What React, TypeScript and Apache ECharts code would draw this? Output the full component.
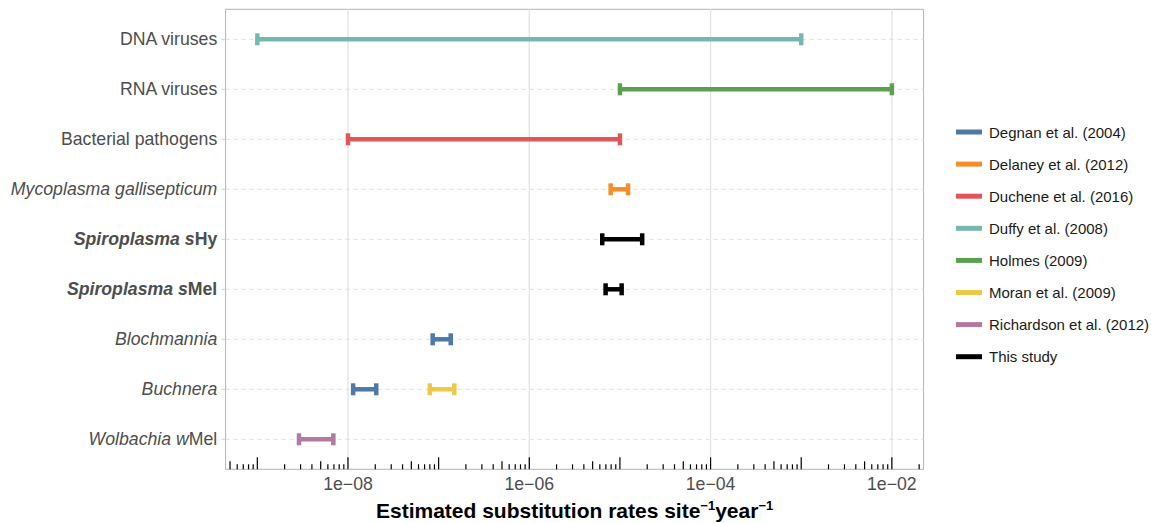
import React, { useEffect, useRef } from "react";
import * as echarts from "echarts";

// ---------- data ----------
const categories = [
  "DNA viruses",
  "RNA viruses",
  "Bacterial pathogens",
  "Mycoplasma gallisepticum",
  "Spiroplasma sHy",
  "Spiroplasma sMel",
  "Blochmannia",
  "Buchnera",
  "Wolbachia wMel",
];

const categoryLabels = [
  "{n|DNA viruses}",
  "{n|RNA viruses}",
  "{n|Bacterial pathogens}",
  "{i|Mycoplasma gallisepticum}",
  "{bi|Spiroplasma s}{b|Hy}",
  "{bi|Spiroplasma s}{b|Mel}",
  "{i|Blochmannia}",
  "{i|Buchnera}",
  "{i|Wolbachia w}{n|Mel}",
];

const studies = [
  "Degnan et al. (2004)",
  "Delaney et al. (2012)",
  "Duchene et al. (2016)",
  "Duffy et al. (2008)",
  "Holmes (2009)",
  "Moran et al. (2009)",
  "Richardson et al. (2012)",
  "This study",
];

// [low, high, category]
const degnanRates: [number, number, string][] = [
  [8.6e-8, 1.36e-7, "Blochmannia"],
  [1.14e-8, 2.05e-8, "Buchnera"],
];
const delaneyRates: [number, number, string][] = [[7.9e-6, 1.23e-5, "Mycoplasma gallisepticum"]];
const ducheneRates: [number, number, string][] = [[1e-8, 1e-5, "Bacterial pathogens"]];
const duffyRates: [number, number, string][] = [[1e-9, 1e-3, "DNA viruses"]];
const holmesRates: [number, number, string][] = [[1e-5, 1e-2, "RNA viruses"]];
const moranRates: [number, number, string][] = [[8.0e-8, 1.49e-7, "Buchnera"]];
const richardsonRates: [number, number, string][] = [[2.88e-9, 6.9e-9, "Wolbachia wMel"]];
const thisStudyRates: [number, number, string][] = [
  [6.38e-6, 1.76e-5, "Spiroplasma sHy"],
  [6.95e-6, 1.045e-5, "Spiroplasma sMel"],
];

const studyRates = [
  degnanRates,
  delaneyRates,
  ducheneRates,
  duffyRates,
  holmesRates,
  moranRates,
  richardsonRates,
  thisStudyRates,
];

const xTickValues = [1e-8, 1e-6, 1e-4, 1e-2];
const xTickLabels = ["1e\u221208", "1e\u221206", "1e\u221204", "1e\u221202"];
const logTickDecades = [-10, -9, -8, -7, -6, -5, -4, -3, -2];
const logTickMultipliers = [1, 2, 3, 4, 5, 6, 7, 8, 9];

// ---------- styles ----------
const palette = ["#4E79A7", "#F28E2B", "#E15759", "#76B7B2", "#59A14F", "#EDC948", "#B07AA1", "#000000"];
const FONT = "'Liberation Sans', Arial, Helvetica, sans-serif";
const X_MIN = Math.pow(10, -9.35);
const X_MAX = Math.pow(10, -1.65);

export default function App() {
  const ref = useRef<HTMLDivElement>(null);

  useEffect(() => {
    if (!ref.current) return;
    const chart = echarts.init(ref.current, undefined, { renderer: "svg" });

    const logTicks: number[][] = [];
    logTickDecades.forEach((d) => {
      logTickMultipliers.forEach((m) => {
        const v = m * Math.pow(10, d);
        if (v >= X_MIN && v <= X_MAX) logTicks.push([v, 8.6, m]);
      });
    });

    const barSeries = studies.map((name, si) => ({
      type: "custom",
      name,
      z: 5,
      itemStyle: { color: palette[si] },
      encode: { x: [0, 1], y: 2 },
      data: studyRates[si].map((r) => [r[0], r[1], categories.indexOf(r[2])]),
      renderItem: (params: any, api: any) => {
        const y = api.value(2);
        const p1 = api.coord([api.value(0), y]);
        const p2 = api.coord([api.value(1), y]);
        const color = palette[si];
        const lw = 4.5;
        const ch = 6;
        return {
          type: "group",
          children: [
            { type: "line", shape: { x1: p1[0], y1: p1[1], x2: p2[0], y2: p2[1] }, style: { stroke: color, lineWidth: lw } },
            { type: "line", shape: { x1: p1[0], y1: p1[1] - ch, x2: p1[0], y2: p1[1] + ch }, style: { stroke: color, lineWidth: lw } },
            { type: "line", shape: { x1: p2[0], y1: p2[1] - ch, x2: p2[0], y2: p2[1] + ch }, style: { stroke: color, lineWidth: lw } },
          ],
        };
      },
    }));

    const hGridSeries = {
      type: "custom",
      name: "hgrid",
      z: 1,
      silent: true,
      encode: { x: 0, y: 1 },
      data: categories.map((c, i) => [1e-5, i]),
      renderItem: (params: any, api: any) => {
        const cs = params.coordSys;
        const y = api.coord([api.value(0), api.value(1)])[1];
        return {
          type: "group",
          children: [
            { type: "line", shape: { x1: cs.x, y1: y, x2: cs.x + cs.width, y2: y }, style: { stroke: "#dedede", lineWidth: 1, lineDash: [4, 4] } },
            { type: "line", shape: { x1: cs.x - 4, y1: y, x2: cs.x, y2: y }, style: { stroke: "#cccccc", lineWidth: 1 } },
          ],
        };
      },
    };

    const vGridSeries = {
      type: "custom",
      name: "vgrid",
      z: 1,
      silent: true,
      encode: { x: 0, y: 1 },
      data: xTickValues.map((v) => [v, 0]),
      renderItem: (params: any, api: any) => {
        const cs = params.coordSys;
        const x = api.coord([api.value(0), api.value(1)])[0];
        return { type: "line", shape: { x1: x, y1: cs.y, x2: x, y2: cs.y + cs.height }, style: { stroke: "#e3e3e3", lineWidth: 1.3 } };
      },
    };

    const logTickSeries = {
      type: "custom",
      name: "logticks",
      z: 2,
      silent: true,
      encode: { x: 0, y: 1 },
      data: logTicks,
      renderItem: (params: any, api: any) => {
        const cs = params.coordSys;
        const x = api.coord([api.value(0), api.value(1)])[0];
        const m = api.value(2);
        const len = m === 1 ? 12 : m === 5 ? 8 : 5;
        const yb = cs.y + cs.height;
        return { type: "line", shape: { x1: x, y1: yb, x2: x, y2: yb - len }, style: { stroke: "#000000", lineWidth: 1.2 } };
      },
    };

    const option: any = {
      animation: false,
      backgroundColor: "#ffffff",
      textStyle: { fontFamily: FONT },
      grid: {
        left: 225.6,
        top: 9.3,
        width: 698,
        height: 460,
        show: true,
        borderColor: "#b3b3b3",
        borderWidth: 1,
        backgroundColor: "#ffffff",
        containLabel: false,
      },
      xAxis: {
        type: "log",
        logBase: 10,
        min: X_MIN,
        max: X_MAX,
        axisLine: { show: false },
        axisTick: { show: false },
        splitLine: { show: false },
        minorTick: { show: false },
        minorSplitLine: { show: false },
        axisLabel: {
          margin: 6,
          fontSize: 17.7,
          color: "#4d4d4d",
          fontFamily: FONT,
          showMinLabel: true,
          showMaxLabel: true,
          formatter: (v: number) => {
            const idx = xTickValues.findIndex((t) => Math.abs(Math.log10(t) - Math.log10(v)) < 1e-6);
            return idx >= 0 ? xTickLabels[idx] : "";
          },
        },
      },
      yAxis: {
        type: "value",
        min: -0.6,
        max: 8.6,
        inverse: true,
        axisLine: { show: false },
        axisTick: { show: false },
        splitLine: { show: false },
        axisLabel: {
          customValues: categories.map((c, i) => i),
          margin: 8.3,
          formatter: (v: number) => categoryLabels[Math.round(v)] ?? "",
          rich: {
            n: { fontSize: 17.7, color: "#4d4d4d", fontFamily: FONT },
            i: { fontSize: 17.7, color: "#4d4d4d", fontFamily: FONT, fontStyle: "italic" },
            b: { fontSize: 17.7, color: "#4d4d4d", fontFamily: FONT, fontWeight: "bold" },
            bi: { fontSize: 17.7, color: "#4d4d4d", fontFamily: FONT, fontWeight: "bold", fontStyle: "italic" },
          },
        },
      },
      legend: {
        orient: "vertical",
        left: 951,
        top: 118,
        itemWidth: 26,
        itemHeight: 5,
        itemGap: 14.1,
        icon: "rect",
        data: studies.map((s, i) => ({ name: s, itemStyle: { color: palette[i] } })),
        formatter: (name: string) => "{g|}{t|" + name + "}",
        textStyle: {
          fontFamily: FONT,
          fontSize: 15,
          color: "#1a1a1a",
          lineHeight: 18,
          rich: {
            g: { width: 2, lineHeight: 18 },
            t: { fontSize: 15, color: "#1a1a1a", fontFamily: FONT, lineHeight: 18 },
          },
        },
      },
      graphic: [
        {
          type: "text",
          x: 574.6,
          y: 510,
          style: {
            text: "{b|Estimated substitution rates site}{s|\u22121}{b|year}{s|\u22121}",
            textAlign: "center",
            textVerticalAlign: "middle",
            rich: {
              b: { fontSize: 21, fontWeight: "bold", fill: "#000000", fontFamily: FONT, lineHeight: 22, verticalAlign: "bottom" },
              s: { fontSize: 13, fontWeight: "bold", fill: "#000000", fontFamily: FONT, verticalAlign: "top" },
            },
          },
        },
      ],
      series: [hGridSeries, vGridSeries, logTickSeries, ...barSeries],
    };

    chart.setOption(option);
    return () => chart.dispose();
  }, []);

  return <div ref={ref} style={{ position: "absolute", left: 0, top: 0, width: 1151, height: 523 }} />;
}
